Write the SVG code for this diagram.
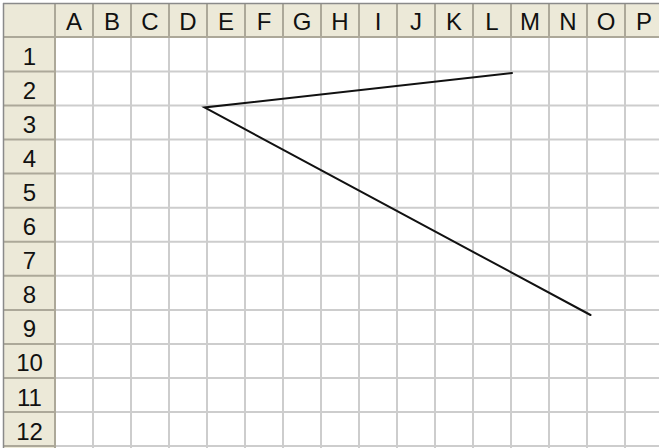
<svg xmlns="http://www.w3.org/2000/svg" width="659" height="448" viewBox="0 0 659 448">
<style>
.hdr{fill:#ECE9D8}
.g{stroke:#CDCDCD;stroke-width:2}
.hs{stroke:#ACA899;stroke-width:2}
.t{font-family:"Liberation Sans",Arial,sans-serif;font-size:24px;fill:#111;text-anchor:middle}
.ln{stroke:#111;stroke-width:2;fill:none;stroke-linecap:round}
</style>
<rect x="0" y="0" width="659" height="448" fill="#FFFFFF"/>
<g id="headers">
<rect class="hdr" x="4" y="4" width="655" height="33"/>
<rect class="hdr" x="4" y="4" width="51" height="444"/>
</g>
<g id="grid">
<g class="g">
<line x1="93" y1="37" x2="93" y2="448"/><line x1="131" y1="37" x2="131" y2="448"/><line x1="169" y1="37" x2="169" y2="448"/><line x1="207" y1="37" x2="207" y2="448"/><line x1="245" y1="37" x2="245" y2="448"/><line x1="283" y1="37" x2="283" y2="448"/><line x1="321" y1="37" x2="321" y2="448"/><line x1="359" y1="37" x2="359" y2="448"/><line x1="397" y1="37" x2="397" y2="448"/><line x1="435" y1="37" x2="435" y2="448"/><line x1="473" y1="37" x2="473" y2="448"/><line x1="511" y1="37" x2="511" y2="448"/><line x1="549" y1="37" x2="549" y2="448"/><line x1="587" y1="37" x2="587" y2="448"/><line x1="625" y1="37" x2="625" y2="448"/>
<line x1="55" y1="71.5" x2="659" y2="71.5"/><line x1="55" y1="105.5" x2="659" y2="105.5"/><line x1="55" y1="139.6" x2="659" y2="139.6"/><line x1="55" y1="173.6" x2="659" y2="173.6"/><line x1="55" y1="207.7" x2="659" y2="207.7"/><line x1="55" y1="241.7" x2="659" y2="241.7"/><line x1="55" y1="275.8" x2="659" y2="275.8"/><line x1="55" y1="309.9" x2="659" y2="309.9"/><line x1="55" y1="343.9" x2="659" y2="343.9"/><line x1="55" y1="378" x2="659" y2="378"/><line x1="55" y1="412" x2="659" y2="412"/><line x1="55" y1="446" x2="659" y2="446"/>
</g>
<g class="hs">
<line x1="93" y1="4" x2="93" y2="37"/><line x1="131" y1="4" x2="131" y2="37"/><line x1="169" y1="4" x2="169" y2="37"/><line x1="207" y1="4" x2="207" y2="37"/><line x1="245" y1="4" x2="245" y2="37"/><line x1="283" y1="4" x2="283" y2="37"/><line x1="321" y1="4" x2="321" y2="37"/><line x1="359" y1="4" x2="359" y2="37"/><line x1="397" y1="4" x2="397" y2="37"/><line x1="435" y1="4" x2="435" y2="37"/><line x1="473" y1="4" x2="473" y2="37"/><line x1="511" y1="4" x2="511" y2="37"/><line x1="549" y1="4" x2="549" y2="37"/><line x1="587" y1="4" x2="587" y2="37"/><line x1="625" y1="4" x2="625" y2="37"/>
<line x1="4" y1="71.5" x2="55" y2="71.5"/><line x1="4" y1="105.5" x2="55" y2="105.5"/><line x1="4" y1="139.6" x2="55" y2="139.6"/><line x1="4" y1="173.6" x2="55" y2="173.6"/><line x1="4" y1="207.7" x2="55" y2="207.7"/><line x1="4" y1="241.7" x2="55" y2="241.7"/><line x1="4" y1="275.8" x2="55" y2="275.8"/><line x1="4" y1="309.9" x2="55" y2="309.9"/><line x1="4" y1="343.9" x2="55" y2="343.9"/><line x1="4" y1="378" x2="55" y2="378"/><line x1="4" y1="412" x2="55" y2="412"/><line x1="4" y1="446" x2="55" y2="446"/>
<line x1="4" y1="37" x2="659" y2="37"/>
<line x1="55" y1="4" x2="55" y2="448"/>
</g>
<line x1="3" y1="3.5" x2="659" y2="3.5" stroke="#8A8A8A" stroke-width="1.5"/>
<line x1="3.5" y1="3" x2="3.5" y2="448" stroke="#8A8A8A" stroke-width="1.5"/>
</g>
<g id="labels" class="t">
<text x="74" y="30">A</text><text x="112" y="30">B</text><text x="150" y="30">C</text><text x="188" y="30">D</text><text x="226" y="30">E</text><text x="264" y="30">F</text><text x="302" y="30">G</text><text x="340" y="30">H</text><text x="378" y="30">I</text><text x="416" y="30">J</text><text x="454" y="30">K</text><text x="492" y="30">L</text><text x="530" y="30">M</text><text x="568" y="30">N</text><text x="606" y="30">O</text><text x="644" y="30">P</text>
<text x="29.5" y="65">1</text><text x="29.5" y="99">2</text><text x="29.5" y="133">3</text><text x="29.5" y="167">4</text><text x="29.5" y="201.2">5</text><text x="29.5" y="235.2">6</text><text x="29.5" y="269.3">7</text><text x="29.5" y="303.3">8</text><text x="29.5" y="337.4">9</text><text x="29.5" y="371.4">10</text><text x="29.5" y="405.5">11</text><text x="29.5" y="439.5">12</text>
</g>
<g id="connectors">
<polyline class="ln" points="512,73 204.5,107.5 590.5,315"/>
</g>
</svg>
